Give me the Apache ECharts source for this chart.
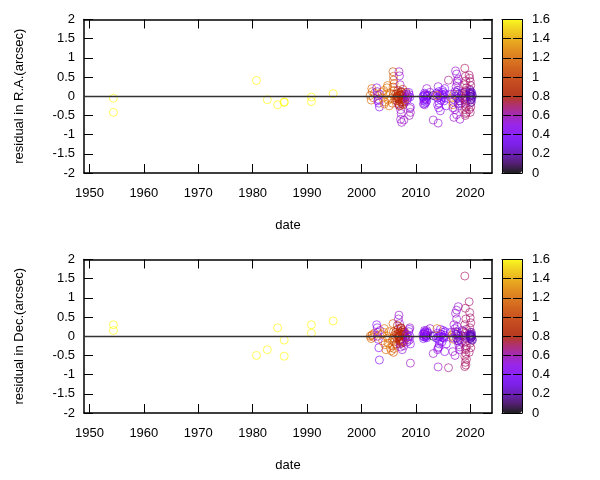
<!DOCTYPE html>
<html>
<head>
<meta charset="utf-8">
<script src="https://cdn.jsdelivr.net/npm/echarts@6/dist/echarts.min.js"></script>
<style>
html, body { margin: 0; background: #fff; }
#chart { width: 600px; height: 480px; }
</style>
</head>
<body>
<div id="chart"></div>
<script>
// observation epochs (year), residuals (arcsec) and colour value, one entry per observation
const obsDate = [
    1954.4, 1954.4, 1980.7, 1982.7, 1984.6, 1985.8, 1985.8, 1990.8, 1990.8, 1994.8,
    2001.6, 2001.8, 2002.0, 2002.2, 2002.4, 2001.9,
    2002.8, 2002.9, 2003.0, 2003.1, 2003.2, 2003.3, 2003.0, 2003.4,
    2003.7, 2003.9, 2004.1, 2004.3, 2004.5, 2004.7, 2004.9, 2005.1, 2005.3, 2005.5, 2004.2, 2004.8,
    2005.8, 2005.9, 2005.9, 2006.0, 2005.8, 2006.0, 2005.9, 2006.1, 2005.7,
    2006.9, 2007.0, 2007.2, 2007.3, 2007.2, 2007.4, 2007.1, 2006.8, 2007.5,
    2006.3, 2006.5, 2006.7, 2006.9, 2007.1, 2007.3, 2007.5, 2007.7, 2007.9, 2008.1,
    2006.4, 2006.8, 2007.2, 2007.6, 2008.0, 2006.6, 2007.0, 2007.4, 2007.8, 2008.2,
    2006.6, 2006.8, 2007.0, 2007.2, 2007.4, 2007.6, 2007.8, 2007.0, 2007.3, 2007.5,
    2008.3, 2008.5, 2008.7, 2008.9, 2008.4, 2008.8, 2008.6, 2009.0,
    2008.9, 2009.0, 2008.8, 2007.8,
    2011.3, 2011.5, 2011.7, 2011.9, 2012.1, 2011.4, 2011.6, 2011.8, 2012.0, 2012.2,
    2011.4, 2011.6, 2011.8, 2012.0, 2011.5, 2011.7,
    2012.0, 2013.2, 2014.1, 2014.1, 2016.0, 2011.6, 2012.6,
    2013.2,
    2013.6, 2013.8, 2014.0, 2014.2, 2014.4, 2014.6, 2014.8, 2015.0, 2015.2, 2015.4, 2014.3, 2014.9,
    2014.5, 2014.7, 2015.1, 2015.3, 2014.1, 2015.0,
    2014.0, 2014.2, 2014.5, 2015.3, 2015.6,
    2013.9, 2016.6, 2016.9, 2017.0, 2016.8,
    2016.4, 2016.9, 2017.2, 2018.6, 2018.8, 2018.4,
    2017.3, 2017.5, 2017.8, 2017.6, 2017.4, 2017.7, 2017.9, 2018.0, 2017.2, 2017.5, 2018.1, 2017.6, 2016.8, 2017.0,
    2017.3, 2017.5, 2017.7, 2017.9, 2018.1, 2018.3, 2018.5, 2017.8,
    2019.0, 2019.1, 2019.2, 2019.0, 2019.3, 2019.1, 2019.2, 2019.0, 2019.3, 2019.1, 2019.2, 2019.0, 2019.3, 2019.1, 2019.2, 2019.0, 2019.1, 2019.2,
    2019.8, 2019.9, 2020.0, 2020.1, 2019.9, 2020.0, 2020.1, 2019.8, 2020.0,
    2019.9, 2020.0, 2020.1, 2020.2, 2020.3, 2020.0, 2020.2, 2020.4,
    2020.0, 2020.1, 2020.2, 2020.1, 2019.95, 2020.25
];
const resRA = [
    -0.05, -0.42, 0.41, -0.09, -0.22, -0.15, -0.16, -0.02, -0.14, 0.07,
    0.02, -0.10, 0.12, -0.04, 0.08, 0.20,
    0.22, 0.12, 0.02, -0.08, -0.18, -0.28, -0.12, 0.05,
    0.10, -0.05, 0.15, -0.15, 0.05, 0.22, -0.10, -0.25, 0.08, -0.05, -0.20, 0.28,
    0.64, 0.52, 0.42, 0.33, 0.24, 0.15, 0.05, -0.08, -0.18,
    0.64, 0.53, -0.35, -0.45, -0.60, -0.68, 0.30, -0.22, -0.15,
    0.05, -0.12, 0.15, -0.20, 0.02, 0.12, -0.08, -0.22, 0.06, -0.02,
    -0.05, 0.08, -0.15, 0.18, -0.12, 0.00, -0.25, 0.04, -0.05, 0.10,
    0.00, -0.05, 0.05, -0.10, 0.10, 0.00, -0.15, -0.08, 0.03, -0.20,
    0.05, -0.05, 0.10, -0.02, -0.10, 0.04, 0.00, -0.28,
    -0.32, -0.42, -0.50, -0.62,
    0.00, -0.08, 0.05, -0.15, 0.02, -0.20, 0.08, -0.05, -0.10, 0.03,
    -0.02, 0.03, -0.08, 0.00, -0.12, -0.18,
    0.20, -0.62, -0.70, 0.25, 0.42, -0.22, 0.10,
    0.02,
    0.00, 0.08, -0.05, 0.12, 0.02, -0.10, 0.05, -0.02, -0.12, 0.06, -0.18, 0.15,
    0.00, -0.05, 0.03, -0.04, 0.05, 0.10,
    -0.22, -0.30, -0.38, 0.20, -0.25,
    0.02, -0.05, -0.15, 0.05, -0.22,
    0.05, -0.08, 0.12, -0.05, 0.10, -0.18,
    0.66, 0.58, 0.45, 0.35, 0.25, 0.15, -0.12, -0.25, -0.35, -0.48, -0.60, 0.40, -0.30, -0.55,
    0.00, 0.10, -0.05, 0.05, -0.12, 0.02, 0.08, -0.20,
    0.73, 0.52, 0.40, 0.30, 0.22, 0.12, 0.05, -0.05, -0.12, -0.20, -0.28, -0.35, -0.42, -0.50, 0.15, -0.08, 0.00, -0.45,
    0.55, 0.47, 0.38, 0.28, 0.18, -0.18, -0.28, -0.35, -0.42,
    0.00, 0.10, -0.10, 0.05, -0.05, 0.15, -0.15, 0.02,
    0.00, 0.05, -0.02, -0.08, 0.08, 0.10
];
const resDec = [
    0.30, 0.15, -0.50, -0.35, 0.22, -0.10, -0.52, 0.30, 0.08, 0.40,
    0.00, -0.06, 0.04, -0.02, 0.08, 0.02,
    0.30, 0.22, 0.10, -0.08, -0.30, -0.62, 0.00, 0.15,
    0.05, -0.12, 0.10, -0.22, -0.35, 0.00, -0.18, 0.12, -0.30, -0.38, 0.20, -0.05,
    0.33, 0.12, -0.05, -0.15, -0.25, -0.32, -0.42, 0.02, -0.10,
    0.55, 0.33, 0.22, -0.15, -0.28, 0.10, -0.20, 0.45, -0.35,
    0.10, -0.05, 0.18, 0.00, -0.12, 0.22, 0.05, -0.15, 0.12, 0.00,
    -0.20, 0.08, -0.08, 0.15, -0.02, 0.28, 0.02, -0.18, 0.10, -0.05,
    0.05, -0.02, 0.08, 0.12, -0.05, 0.02, 0.06, -0.10, 0.20, -0.12,
    0.05, -0.08, 0.12, 0.00, -0.15, 0.18, -0.02, -0.20,
    0.22, -0.70, -0.10, -0.25,
    0.05, -0.02, 0.12, 0.00, 0.08, -0.06, 0.15, 0.02, -0.04, 0.10,
    0.00, 0.05, -0.02, 0.03, 0.08, 0.10,
    0.15, -0.45, -0.80, -0.31, -0.82, 0.05, 0.20,
    0.00,
    0.02, -0.05, 0.08, 0.00, -0.12, 0.05, -0.15, 0.10, -0.05, 0.12, -0.20, -0.02,
    0.00, 0.05, -0.03, 0.02, -0.06, 0.15,
    -0.35, -0.28, 0.18, -0.40, -0.20,
    0.20, 0.02, -0.08, 0.10, -0.02,
    0.10, -0.05, 0.20, 0.00, 0.12, -0.15,
    0.60, 0.68, 0.77, 0.25, 0.12, -0.12, -0.22, -0.35, -0.50, 0.45, -0.28, 0.05, -0.40, 0.30,
    0.05, -0.05, 0.10, 0.00, -0.08, 0.02, 0.15, -0.12,
    1.57, 0.73, 0.45, 0.30, 0.18, 0.08, -0.05, -0.15, -0.25, -0.35, -0.45, -0.52, -0.60, -0.68, -0.75, -0.79, 0.00, -0.30,
    0.90, 0.62, 0.48, 0.35, 0.22, -0.18, -0.30, -0.42, 0.10,
    0.00, 0.05, -0.05, 0.10, -0.08, 0.02, -0.02, -0.10,
    0.00, -0.03, 0.05, 0.03, -0.06, 0.00
];
const obsWeight = [
    1.6, 1.6, 1.6, 1.6, 1.6, 1.6, 1.6, 1.6, 1.6, 1.6,
    1.15, 1.15, 1.15, 1.15, 1.15, 1.15,
    0.42, 0.42, 0.42, 0.42, 0.42, 0.42, 0.42, 0.55,
    1.2, 1.2, 1.2, 1.2, 1.2, 1.2, 1.2, 1.2, 1.2, 1.2, 1.2, 1.2,
    1.1, 1.1, 1.1, 1.1, 1.1, 1.1, 1.1, 1.1, 1.1,
    0.55, 0.55, 0.55, 0.55, 0.55, 0.55, 0.55, 0.55, 0.55,
    0.82, 0.82, 0.82, 0.82, 0.82, 0.82, 0.82, 0.82, 0.82, 0.82,
    0.8, 0.8, 0.8, 0.8, 0.8, 0.8, 0.8, 0.8, 0.8, 0.8,
    0.85, 0.85, 0.85, 0.85, 0.85, 0.85, 0.85, 0.85, 0.85, 0.85,
    0.45, 0.45, 0.45, 0.45, 0.45, 0.45, 0.45, 0.45,
    0.58, 0.58, 0.58, 0.58,
    0.38, 0.38, 0.38, 0.38, 0.38, 0.38, 0.38, 0.38, 0.38, 0.38,
    0.38, 0.38, 0.38, 0.38, 0.38, 0.38,
    0.55, 0.55, 0.55, 0.55, 0.65, 0.55, 0.55,
    0.02,
    0.4, 0.4, 0.4, 0.4, 0.4, 0.4, 0.4, 0.4, 0.4, 0.4, 0.4, 0.4,
    0.4, 0.4, 0.4, 0.4, 0.4, 0.4,
    0.5, 0.5, 0.5, 0.5, 0.5,
    1.25, 1.25, 1.25, 1.25, 1.25,
    0.42, 0.42, 0.42, 0.42, 0.42, 0.42,
    0.55, 0.55, 0.55, 0.55, 0.55, 0.55, 0.55, 0.55, 0.55, 0.55, 0.55, 0.55, 0.55, 0.55,
    0.25, 0.25, 0.25, 0.25, 0.25, 0.25, 0.25, 0.25,
    0.7, 0.7, 0.7, 0.7, 0.7, 0.7, 0.7, 0.7, 0.7, 0.7, 0.7, 0.7, 0.7, 0.7, 0.7, 0.7, 0.7, 0.7,
    0.68, 0.68, 0.68, 0.68, 0.68, 0.68, 0.68, 0.68, 0.68,
    0.2, 0.2, 0.2, 0.2, 0.2, 0.2, 0.2, 0.2,
    0.22, 0.22, 0.22, 0.22, 0.22, 0.22
];

const xTickYears = [1950, 1960, 1970, 1980, 1990, 2000, 2010, 2020];
const yAxisNames = ['residual in R.A.(arcsec)', 'residual in Dec.(arcsec)'];

// gnuplot-like palette, stops every 0.1 from 0 to 1.6
const cbStops = [
    [0, 0, 0], [64, 0, 98], [90, 0, 180], [110, 2, 236], [128, 4, 255],
    [143, 8, 236], [156, 13, 180], [169, 21, 98], [180, 32, 0], [191, 45, 0],
    [202, 62, 0], [211, 83, 0], [221, 108, 0], [230, 137, 0], [239, 171, 0],
    [247, 210, 0], [255, 255, 0]
];
const cbMin = 0, cbMax = 1.6;

function paletteColor(c, alpha) {
    const t = Math.max(0, Math.min(1, (c - cbMin) / (cbMax - cbMin))) * (cbStops.length - 1);
    const i = Math.min(Math.floor(t), cbStops.length - 2);
    const f = t - i;
    const a = cbStops[i], b = cbStops[i + 1];
    const rgb = a.map((v, k) => Math.round(v + (b[k] - v) * f));
    return `rgba(${rgb[0]},${rgb[1]},${rgb[2]},${alpha})`;
}

const gridTops = [19.5, 259.5];
const plotH = 153.5;
const font = 'Liberation Sans, Arial, sans-serif';
const tickStyle = { color: '#000', width: 1 };

const grids = [];
const xAxes = [];
const yAxes = [];
const series = [];
const visualMaps = [];

gridTops.forEach((top, p) => {
    // main plot
    grids.push({ left: 84, top: top, width: 408, height: plotH });
    const gi = grids.length - 1;
    const xBase = {
        gridIndex: gi, type: 'value', min: 1949, max: 2024,
        axisLine: { onZero: false, lineStyle: { color: '#000', width: 1.5 } },
        axisTick: { inside: true, length: 9, customValues: xTickYears, lineStyle: tickStyle },
        splitLine: { show: false }
    };
    xAxes.push(Object.assign({}, xBase, {
        position: 'bottom',
        axisLabel: {
            customValues: xTickYears, color: '#000', fontSize: 13, fontFamily: font, margin: 14,
            formatter: (v) => String(v)
        },
        name: 'date', nameLocation: 'middle', nameGap: 46,
        nameTextStyle: { color: '#000', fontSize: 13, fontFamily: font }
    }));
    xAxes.push(Object.assign({}, xBase, { position: 'top', axisLabel: { show: false } }));
    const yBase = {
        gridIndex: gi, type: 'value', min: -2, max: 2, interval: 0.5,
        axisLine: { onZero: false, show: true, lineStyle: { color: '#000', width: 1.5 } },
        axisTick: { inside: true, length: 9, lineStyle: tickStyle },
        splitLine: { show: false }
    };
    yAxes.push(Object.assign({}, yBase, {
        position: 'left',
        axisLabel: { color: '#000', fontSize: 13, fontFamily: font, margin: 9 },
        name: yAxisNames[p], nameLocation: 'middle', nameGap: 58,
        nameTextStyle: { color: '#000', fontSize: 13, fontFamily: font }
    }));
    yAxes.push(Object.assign({}, yBase, { position: 'right', axisLabel: { show: false } }));

    const resid = p === 0 ? resRA : resDec;
    series.push({
        type: 'scatter',
        xAxisIndex: xAxes.length - 2,
        yAxisIndex: yAxes.length - 2,
        symbol: 'circle',
        symbolSize: 8,
        itemStyle: { color: 'rgba(0,0,0,0)', borderWidth: 1 },
        data: obsDate.map((d, i) => ({
            value: [d, resid[i]],
            itemStyle: { borderColor: paletteColor(obsWeight[i], 0.8) }
        })),
        markLine: {
            silent: true, symbol: 'none', animation: false,
            label: { show: false },
            lineStyle: { color: '#333', width: 1.3, type: 'solid' },
            data: [{ yAxis: 0 }]
        }
    });
});

gridTops.forEach((top) => {
    // colour box
    grids.push({ left: 502, top: top, width: 20, height: plotH });
    const gi = grids.length - 1;
    const xb = {
        gridIndex: gi, type: 'value', min: 0, max: 1, z: 6,
        axisLine: { onZero: false, lineStyle: { color: '#000', width: 1 } },
        axisTick: { show: false }, axisLabel: { show: false }, splitLine: { show: false }
    };
    xAxes.push(Object.assign({}, xb, { position: 'bottom' }));
    xAxes.push(Object.assign({}, xb, { position: 'top' }));
    const yb = {
        gridIndex: gi, type: 'value', min: cbMin, max: cbMax, interval: 0.2, z: 6,
        axisLine: { onZero: false, show: true, lineStyle: { color: '#000', width: 1 } },
        axisTick: { inside: true, length: 9, lineStyle: tickStyle },
        splitLine: { show: false }
    };
    yAxes.push(Object.assign({}, yb, { position: 'left', axisLabel: { show: false } }));
    yAxes.push(Object.assign({}, yb, {
        position: 'right',
        axisLabel: {
            color: '#000', fontSize: 13, fontFamily: font, margin: 10,
            formatter: (v) => String(+v.toFixed(1))
        }
    }));
    series.push({
        type: 'scatter',
        xAxisIndex: xAxes.length - 2,
        yAxisIndex: yAxes.length - 1,
        data: []
    });
    visualMaps.push({
        type: 'continuous',
        seriesIndex: series.length - 1,
        min: cbMin, max: cbMax,
        calculable: false, hoverLink: false,
        left: 502, top: top,
        itemWidth: 20, itemHeight: plotH,
        padding: 0, z: 1,
        inRange: { color: cbStops.map((s, i) => paletteColor(cbMin + i * 0.1, 0.85)) }
    });
});

const chart = echarts.init(document.getElementById('chart'), null, { renderer: 'canvas' });
chart.setOption({
    animation: false,
    backgroundColor: '#fff',
    grid: grids,
    xAxis: xAxes,
    yAxis: yAxes,
    visualMap: visualMaps,
    series: series
});
</script>
</body>
</html>
